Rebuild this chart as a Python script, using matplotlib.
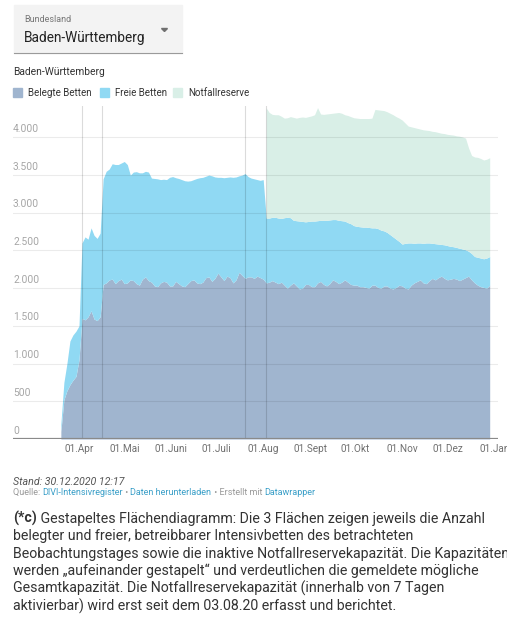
import numpy as np
import pandas as pd
import matplotlib
matplotlib.use("Agg")
import matplotlib.pyplot as plt
import matplotlib.transforms as mtransforms
from matplotlib.patches import Rectangle, Polygon

plt.rcParams['font.family'] = ['Roboto', 'DejaVu Sans']

W, H = 507, 628

# values every 2 days, starting 20.03.2020
start = "2020-03-20"
belegt = [
    100, 520, 640, 720, 780, 830, 1050, 1600, 1580, 1620, 1700, 1590, 1570, 1620,
    2050, 2070, 2110, 2120, 2060, 2100, 2120, 2060, 2070, 2110, 2100, 2060, 2040, 2120,
    2150, 2100, 2080, 2030, 2020, 2070, 2090, 2080, 2030, 2030, 2090, 2060, 2030, 2020,
    2060, 2100, 2110, 2070, 2060, 2080, 2140, 2150, 2090, 2130, 2200, 2150, 2100, 2160,
    2140, 2070, 2110, 2210, 2170, 2130, 2150, 2150, 2130, 2160, 2140, 2120, 2070, 2080,
    2100, 2080, 2060, 2080, 2040, 2000, 2040, 2070, 2030, 1990, 2000, 2050, 2050, 2020,
    2020, 2070, 2090, 2050, 2030, 2060, 2110, 2090, 2060, 2080, 2110, 2080, 2050, 2040,
    2040, 2020, 2020, 2010, 2000, 2040, 2040, 2010, 2000, 2030, 2030, 2000, 1990, 2010,
    2040, 2030, 2000, 1990, 2040, 2070, 2090, 2110, 2070, 2060, 2100, 2130, 2110, 2140,
    2160, 2130, 2110, 2120, 2130, 2120, 2100, 2120, 2140, 2160, 2110, 2070, 2040, 2020,
    2010, 2000, 2040,
]
# belegte + freie Betten (betreibbar)
betreibbar = [
    200, 750, 1000, 1300, 1380, 1430, 1500, 2600, 2680, 2650, 2800, 2700, 2660, 2730,
    3450, 3550, 3580, 3650, 3640, 3640, 3660, 3680, 3640, 3500, 3540, 3545, 3530, 3530,
    3550, 3540, 3460, 3455, 3450, 3440, 3445, 3440, 3470, 3480, 3465, 3455, 3440, 3425,
    3420, 3425, 3440, 3455, 3465, 3470, 3485, 3500, 3490, 3475, 3470, 3470, 3465, 3470,
    3475, 3470, 3475, 3490, 3500, 3520, 3480, 3460, 3450, 3440, 3430, 3440, 2930, 2930,
    2940, 2940, 2930, 2925, 2935, 2940, 2935, 2900, 2895, 2890, 2885, 2880, 2885, 2890,
    2890, 2895, 2900, 2900, 2900, 2905, 2910, 2910, 2900, 2895, 2890, 2870, 2855, 2830,
    2820, 2815, 2810, 2810, 2805, 2800, 2800, 2790, 2770, 2760, 2740, 2710, 2680, 2650,
    2620, 2585, 2595, 2600, 2600, 2595, 2600, 2600, 2595, 2600, 2600, 2595, 2590, 2585,
    2580, 2575, 2565, 2555, 2550, 2540, 2530, 2520, 2510, 2490, 2460, 2420, 2410, 2400,
    2390, 2400, 2420,
]
# betreibbar + Notfallreserve, erfasst seit 03.08.2020
gesamt = [np.nan] * 68 + [
    4390, 4330, 4305, 4300, 4300, 4280, 4255, 4260, 4275, 4265, 4255, 4265, 4270, 4265,
    4275, 4285, 4300, 4395, 4310, 4305, 4310, 4315, 4320, 4325, 4330, 4320, 4300, 4290,
    4275, 4260, 4255, 4250, 4250, 4250, 4250, 4255, 4370, 4365, 4360, 4355, 4340, 4320,
    4300, 4275, 4255, 4230, 4190, 4150, 4140, 4130, 4120, 4110, 4100, 4095, 4090, 4080,
    4075, 4065, 4055, 4050, 4040, 4035, 4030, 4020, 4015, 4005, 3990, 3860, 3760, 3740,
    3735, 3720, 3700, 3710, 3730,
]

month_ticks = ["2020-04-01", "2020-05-01", "2020-06-01", "2020-07-01", "2020-08-01",
               "2020-09-01", "2020-10-01", "2020-11-01", "2020-12-01", "2021-01-01"]
month_labels = ["01.Apr", "01.Mai", "01.Juni", "01.Juli", "01.Aug",
                "01.Sept", "01.Okt", "01.Nov", "01.Dez", "01.Jan"]
marker_dates = ["2020-04-03", "2020-04-16", "2020-07-20", "2020-08-03"]
y_ticks = [0, 500, 1000, 1500, 2000, 2500, 3000, 3500, 4000]
y_labels = ["0", "500", "1.000", "1.500", "2.000", "2.500", "3.000", "3.500", "4.000"]

c_beleg = "#a0b5cf"
c_frei = "#90d9f3"
c_not = "#d9efe7"

dates = pd.date_range(start, periods=len(belegt), freq="2D")
t0 = pd.Timestamp(start)

fig = plt.figure(figsize=(W / 100, H / 100), dpi=100)


def fx(x):
    return x / W


def fy(y):
    return 1 - y / H


# plot area: x 13..498 px, y 106..439 px
ax = fig.add_axes([fx(13), fy(439), (498 - 13) / W, (439 - 106) / H])
ax.fill_between(dates, 0, belegt, color=c_beleg, lw=0, zorder=2)
ax.fill_between(dates, belegt, betreibbar, color=c_frei, lw=0, zorder=2)
ax.fill_between(dates, betreibbar, gesamt, color=c_not, lw=0, zorder=2)

ax.set_xlim(t0 - pd.Timedelta(days=31.7), t0 + pd.Timedelta(days=289.5))
ax.set_ylim(0, 4416)
for s in ax.spines.values():
    s.set_visible(False)
ax.set_xticks([])
ax.set_yticks([])

for v in y_ticks[1:]:
    ax.axhline(v, color="black", alpha=0.08, lw=0.8, zorder=3)
ax.axhline(0, color="#8a8a8a", lw=1.6, zorder=4)

trans = mtransforms.blended_transform_factory(ax.transAxes, ax.transData)
for v, lab in zip(y_ticks, y_labels):
    ax.annotate(lab, (0, v), xycoords=trans, xytext=(0, 2.5), textcoords="offset points",
                ha="left", va="bottom", fontsize=7.4, color="#a6a6a6")

for d in marker_dates:
    ax.axvline(pd.Timestamp(d), color="black", alpha=0.14, lw=0.8, zorder=3)

trans2 = mtransforms.blended_transform_factory(ax.transData, ax.transAxes)
for d, lab in zip(month_ticks, month_labels):
    ax.text(pd.Timestamp(d), -0.03, lab, transform=trans2, ha="center", va="center",
            fontsize=7.2, color="#707070")

# dropdown widget
fig.patches.append(Rectangle((fx(14), fy(53)), (182 - 14) / W, 48 / H,
                             transform=fig.transFigure, color="#f3f3f3", zorder=0))
fig.lines.append(plt.Line2D([fx(14), fx(182)], [fy(53), fy(53)], transform=fig.transFigure,
                            color="#9a9a9a", lw=0.8))
fig.patches.append(Polygon([(fx(161.5), fy(28.5)), (fx(167.5), fy(28.5)), (fx(164.5), fy(31.5))],
                           closed=True, transform=fig.transFigure, color="#6f6f6f"))
fig.text(fx(24), fy(19), "Bundesland", fontsize=6.5, color="#777777", va="center")
fig.text(fx(24), fy(38), "Baden-Württemberg", fontsize=9.8, color="#222222", va="center")

# chart title and legend
fig.text(fx(13), fy(72), "Baden-Württemberg", fontsize=7.4, color="#333333", va="center")
leg = [("Belegte Betten", c_beleg, 13), ("Freie Betten", c_frei, 100),
       ("Notfallreserve", c_not, 173)]
for name, col, x0 in leg:
    fig.patches.append(Rectangle((fx(x0), fy(97)), 9 / W, 9 / H,
                                 transform=fig.transFigure, color=col))
    fig.text(fx(x0 + 15), fy(92.5), name, fontsize=7, color="#333333", va="center")

renderer = fig.canvas.get_renderer()


def run_text(x, y, parts, **kw):
    for s, props in parts:
        p = dict(kw)
        p.update(props)
        t = fig.text(fx(x), fy(y), s, va="baseline", **p)
        x += t.get_window_extent(renderer).width


fig.text(fx(13), fy(482), "Stand: 30.12.2020 12:17", fontsize=7.7, style="italic",
         color="#555555", va="center")
grey = {"color": "#999999"}
blue = {"color": "#3a9fc8"}
run_text(13, 495, [("Quelle: ", grey), ("DIVI-Intensivregister", blue), (" • ", grey),
                   ("Daten herunterladen", blue), (" • Erstellt mit ", grey),
                   ("Datawrapper", blue)], fontsize=6.5)

para = 10.2
run_text(13, 522.5, [("(*c)", {"weight": "bold"}),
                     (" Gestapeltes Flächendiagramm: Die 3 Flächen zeigen jeweils die Anzahl", {})],
         fontsize=para, color="#333333")
lines = ["belegter und freier, betreibbarer Intensivbetten des betrachteten",
         "Beobachtungstages sowie die inaktive Notfallreservekapazität. Die Kapazitäten",
         "werden „aufeinander gestapelt“ und verdeutlichen die gemeldete mögliche",
         "Gesamtkapazität. Die Notfallreservekapazität (innerhalb von 7 Tagen",
         "aktivierbar) wird erst seit dem 03.08.20 erfasst und berichtet."]
for i, s in enumerate(lines):
    fig.text(fx(13), fy(522.5 + 17.6 * (i + 1)), s, fontsize=para, color="#333333",
             va="baseline")

fig.savefig("out.png", dpi=100)
